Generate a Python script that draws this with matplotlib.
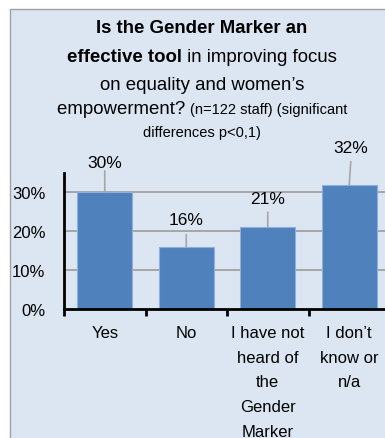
import matplotlib
matplotlib.use("Agg")
import matplotlib.pyplot as plt
from matplotlib.patches import Rectangle
from matplotlib import font_manager

categories = ["Yes", "No", "I have not\nheard of\nthe\nGender\nMarker", "I don\u2019t\nknow or\nn/a"]
shares = [30, 16, 21, 32]
y_ticks = [0, 10, 20, 30]
y_tick_labels = ["0%", "10%", "20%", "30%"]

# label offsets above each bar (pixels): text centre, leader length
label_dy = [29.5, 27, 29, 37]
label_dx = [0, 0, 0, 1]
leader_len = [21.5, 12, 15, 23]

W, H = 385, 439
BAR = "#4f81bd"
GRID = "#a6a6a6"
BG = "#dce6f2"

names = {f.name for f in font_manager.fontManager.ttflist}
narrow = "Liberation Sans Narrow" if "Liberation Sans Narrow" in names else "Liberation Sans"
plt.rcParams["font.family"] = ["Liberation Sans", "DejaVu Sans"]

fig = plt.figure(figsize=(W / 100, H / 100), dpi=100)
fig.patch.set_facecolor("white")

# chart area panel
fig.patches.append(Rectangle((9.5 / W, -0.05), 1.1, 1 - 9.5 / H + 0.05,
                             transform=fig.transFigure, facecolor=BG,
                             edgecolor="#a0a0a0", lw=1.0, zorder=-10))

ax = fig.add_axes([64 / W, 1 - 309.5 / H, (390 - 64) / W, (309.5 - 174) / H])
ax.set_facecolor("none")

x = range(len(categories))
ax.bar(x, shares, width=0.67, color=BAR, edgecolor="#8fb0d9", lw=0.8, zorder=3)

ax.set_xlim(-0.5, 3.5)
ax.set_ylim(0, 35)
ax.set_yticks(y_ticks)
ax.set_yticklabels(y_tick_labels, fontsize=12)
ax.tick_params(axis="y", length=0, pad=13.5)
for v in y_ticks[1:]:
    ax.axhline(v, color=GRID, lw=1.4, zorder=1)

ax.set_xticks([-0.5, 0.5, 1.5, 2.5, 3.5])
ax.set_xticklabels([])
ax.tick_params(axis="x", which="major", direction="out", length=5, width=2, color="black")
ax.set_xticks(list(x), minor=True)
ax.set_xticklabels(categories, minor=True, fontsize=12, linespacing=1.8)
ax.tick_params(axis="x", which="minor", length=0, pad=12)

for s in ("top", "right"):
    ax.spines[s].set_visible(False)
for s in ("left", "bottom"):
    ax.spines[s].set_linewidth(2)
    ax.spines[s].set_zorder(5)

for i, v in enumerate(shares):
    ax.annotate(f"{v}%", xy=(i, v), xytext=(label_dx[i], label_dy[i]),
                textcoords="offset pixels", ha="center", va="center",
                fontsize=12.5, zorder=6)
    ax.annotate("", xy=(i, v), xytext=(label_dx[i] * 1.5, leader_len[i]),
                textcoords="offset pixels",
                arrowprops=dict(arrowstyle="-", color=GRID, lw=1.2,
                                shrinkA=0, shrinkB=0), zorder=6)

# title built from mixed bold / regular / small pieces
big = dict(fontsize=13.4)
bold = dict(fontsize=13.4, fontweight="bold")
small = dict(fontsize=10.5, family=[narrow, "DejaVu Sans"])
title_lines = [
    ([("Is the Gender Marker an", bold)], 33),
    ([("effective tool", bold), (" in improving focus", big)], 62),
    ([("on equality and women\u2019s", big)], 90),
    ([("empowerment? ", big), ("(n=122 staff) (significant", small)], 114),
    ([("differences p<0,1)", small)], 137),
]

renderer = fig.canvas.get_renderer()
cx = 202
for parts, base in title_lines:
    texts = [fig.text(0, 0, s, ha="left", va="baseline", **kw) for s, kw in parts]
    widths = [t.get_window_extent(renderer).width for t in texts]
    left = cx - sum(widths) / 2
    for t, w in zip(texts, widths):
        t.set_position((left / W, 1 - base / H))
        left += w

fig.savefig("out.png", dpi=100, facecolor="white")
